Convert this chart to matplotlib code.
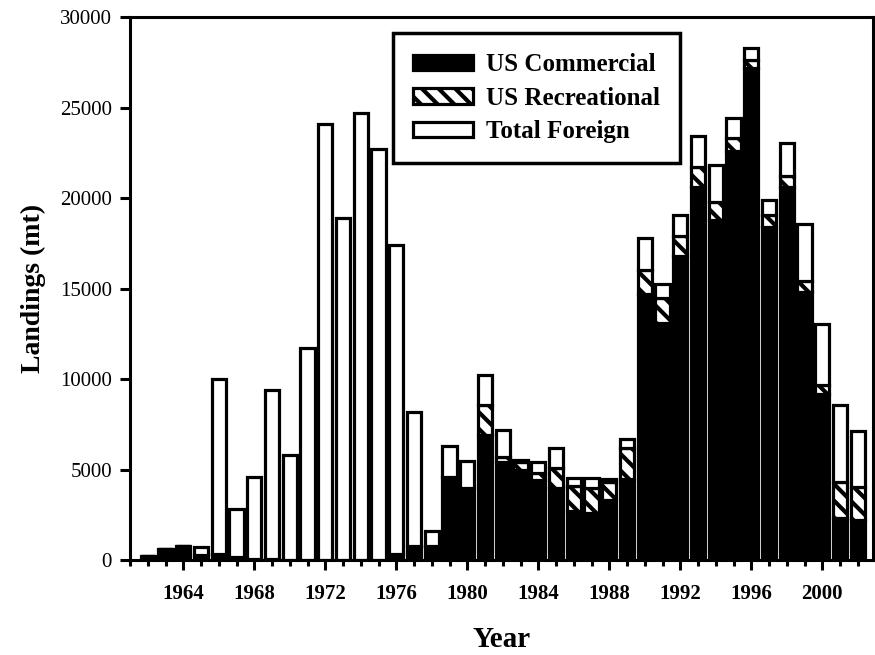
import numpy as np
import matplotlib
matplotlib.use("Agg")
import matplotlib.pyplot as plt
from matplotlib.ticker import MultipleLocator

plt.rcParams['font.family'] = ['Liberation Serif', 'DejaVu Serif']
plt.rcParams['hatch.linewidth'] = 3.0

# datos (toneladas)
years = np.arange(1962, 2003)
commercial = [250, 600, 750, 300, 350, 150, 50, 50, 0, 0, 0, 0, 0, 0,
              350, 750, 800, 4600, 4000, 6900, 5400, 5000, 4400, 4000, 2700,
              2600, 3300, 4500, 14700, 13100, 16800, 20600, 18800, 22600,
              27200, 18400, 20600, 14800, 9200, 2300, 2200]
recreational = [0, 0, 0, 0, 0, 0, 0, 0, 0, 0, 0, 0, 0, 0,
                0, 0, 0, 0, 0, 1650, 300, 400, 400, 1100, 1400,
                1400, 1000, 1700, 1300, 1400, 1100, 1100, 1000, 700,
                450, 650, 600, 600, 450, 2000, 1850]
foreign = [0, 0, 0, 400, 9650, 2650, 4550, 9350, 5800, 11700, 24100, 18900, 24700, 22700,
           17050, 7450, 800, 1700, 1450, 1650, 1500, 100, 600, 1100, 450,
           550, 150, 500, 1800, 750, 1150, 1700, 2000, 1100,
           650, 850, 1850, 3150, 3400, 4250, 3100]
major_years = np.arange(1964, 2001, 4)

commercial = np.array(commercial)
recreational = np.array(recreational)
foreign = np.array(foreign)

fig = plt.figure(figsize=(8.75, 6.55), dpi=100)
ax = fig.add_axes([0.1486, 0.145, 0.849, 0.829])

w = 0.8
lw = 2.3
ax.bar(years, commercial, w, color='black', edgecolor='black', linewidth=lw,
       label='US Commercial')
ax.bar(years, recreational, w, bottom=commercial, color='white', edgecolor='black',
       linewidth=lw, hatch='\\\\', label='US Recreational')
ax.bar(years, foreign, w, bottom=commercial + recreational, color='white',
       edgecolor='black', linewidth=lw, label='Total Foreign')

ax.set_xlim(1961, 2002.85)
ax.set_ylim(0, 30000)
ax.set_xticks(major_years)
ax.xaxis.set_minor_locator(MultipleLocator(1))
ax.set_yticks(np.arange(0, 30001, 5000))

for s in ax.spines.values():
    s.set_linewidth(2.2)
ax.tick_params(axis='both', which='major', direction='out', length=7, width=2.2,
               labelsize=15)
ax.tick_params(axis='x', which='minor', direction='out', length=4, width=2.2)
ax.tick_params(axis='x', which='major', pad=10)
ax.tick_params(axis='y', which='major', pad=6)
for t in ax.get_xticklabels():
    t.set_fontweight('bold')

ax.set_xlabel('Year', fontsize=21, fontweight='bold', labelpad=16)
ax.set_ylabel('Landings (mt)', fontsize=20, fontweight='bold', labelpad=10)

leg = ax.legend(loc='upper left', bbox_to_anchor=(0.354, 0.97), borderaxespad=0,
                fancybox=False, framealpha=1, edgecolor='black',
                handlelength=2.4, handleheight=0.6,
                prop={'size': 18, 'weight': 'bold'}, borderpad=0.8, labelspacing=0.42,
                handletextpad=0.5)
leg.get_frame().set_linewidth(2.5)

plt.savefig('out.png', dpi=100)
